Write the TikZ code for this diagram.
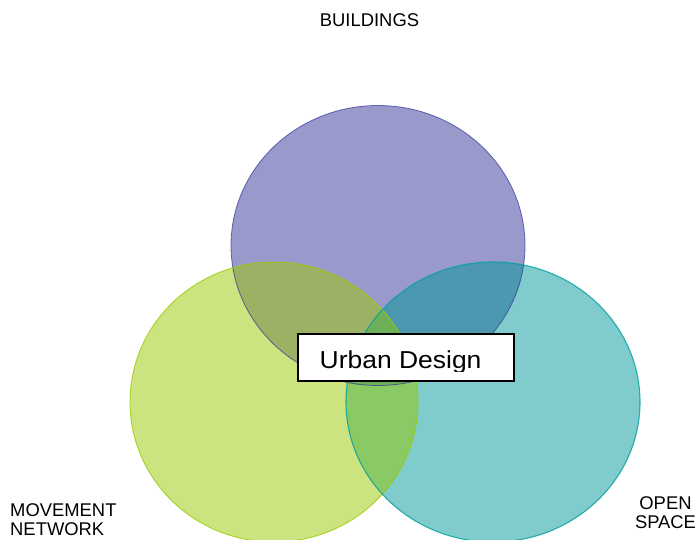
\documentclass[tikz,border=0pt]{standalone}
\usepackage{fontspec}
\setmainfont{Liberation Sans}
\definecolor{topfill}{HTML}{9999CC}
\definecolor{topedge}{HTML}{333399}
\definecolor{leftfill}{HTML}{CCE480}
\definecolor{leftedge}{HTML}{99CC00}
\definecolor{rightfill}{HTML}{80CBCB}
\definecolor{rightedge}{HTML}{00A0A0}
\definecolor{tlfill}{HTML}{9BB163}
\definecolor{trfill}{HTML}{4B98B0}
\definecolor{lrfill}{HTML}{8ACA64}
\definecolor{tlrfill}{HTML}{6EB05A}
\tikzset{
  lbl/.style={font=\fontsize{18.4}{19}\selectfont, inner sep=0pt, text=black},
  titlebox/.style={draw=black, line width=1.6pt, fill=white, minimum width=216pt, minimum height=47pt, inner sep=0pt}
}
\begin{document}
\begin{tikzpicture}[x=1pt,y=-1pt]
\useasboundingbox (0,0) rectangle (696,540);
\fill[white] (0,0) rectangle (696,540);
\def\TopE{(378,245.5) ellipse [x radius=147, y radius=140]}
\def\LeftE{(274,402) ellipse [x radius=144, y radius=140]}
\def\RightE{(493,402) ellipse [x radius=147, y radius=140]}
% base fills
\fill[topfill] \TopE;
\fill[leftfill] \LeftE;
\fill[rightfill] \RightE;
% pairwise overlaps
\begin{scope}\clip \TopE; \fill[tlfill] \LeftE; \end{scope}
\begin{scope}\clip \TopE; \fill[trfill] \RightE; \end{scope}
\begin{scope}\clip \LeftE; \fill[lrfill] \RightE; \end{scope}
\begin{scope}\clip \TopE; \clip \LeftE; \fill[tlrfill] \RightE; \end{scope}
% edges
\draw[topedge, line width=0.8pt, draw opacity=0.7] \TopE;
\draw[leftedge, line width=0.9pt, draw opacity=0.8] \LeftE;
\draw[rightedge, line width=1.1pt, draw opacity=0.8] \RightE;
% central box
\node[titlebox] (ud) at (406,357.5) {};
\begin{scope}
\clip (298,334) rectangle (514,371.5);
\node[font=\fontsize{24.5}{28}\selectfont, inner sep=0pt, anchor=base west] (udtext) at (319.5,368.5) {\scalebox{1.08}[1]{Urban Design}};
\end{scope}
% labels
\node[lbl, anchor=base] (bld) at (369.5,26.5) {BUILDINGS};
\node[lbl, anchor=base west, align=left] (mov) at (10,535) {MOVEMENT\\NETWORK};
\node[lbl, anchor=base, align=center] (open) at (665.5,528.3) {OPEN\\SPACE};
\end{tikzpicture}
\end{document}
